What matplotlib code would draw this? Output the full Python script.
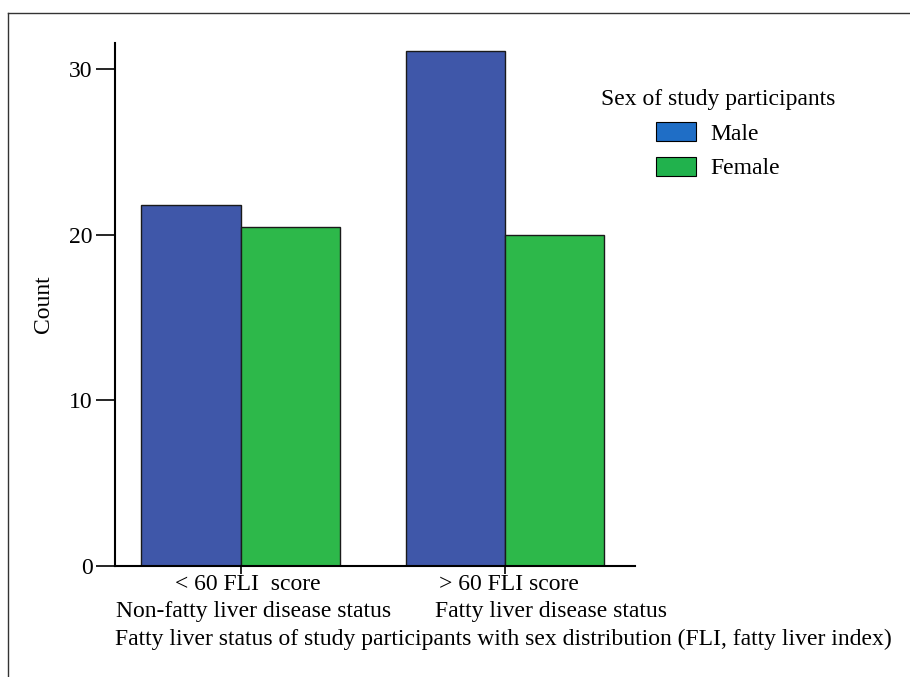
import matplotlib
matplotlib.use("Agg")
import matplotlib.pyplot as plt
import numpy as np
from matplotlib.lines import Line2D
from matplotlib.patches import Patch
import matplotlib.transforms as mtransforms

# data
categories = ["< 60 FLI  score", "> 60 FLI score"]
status_labels = ["Non-fatty liver disease status", "Fatty liver disease status"]
male_counts = [21.8, 31.1]
female_counts = [20.5, 20.0]

plt.rcParams["font.family"] = ["Liberation Serif", "DejaVu Serif"]

bar_male = "#3f57a9"
bar_female = "#2db84a"
leg_male = "#1f6ec6"
leg_female = "#21b24d"
txt_size = 17

fig = plt.figure(figsize=(9.1, 6.77), dpi=100)
ax = fig.add_axes([0.1264, 0.164, 0.571, 0.7725])

x = np.arange(len(categories))
width = 0.375
ax.bar(x - width / 2, male_counts, width, color=bar_male, edgecolor="#1a1a1a", linewidth=1.0)
ax.bar(x + width / 2, female_counts, width, color=bar_female, edgecolor="#1a1a1a", linewidth=1.0)

ax.set_xlim(-0.475, 1.49)
ax.set_ylim(0, 31.6)
ax.set_yticks([0, 10, 20, 30])
ax.tick_params(axis="y", length=14, width=1.2, labelsize=txt_size, pad=2)
ax.set_xticks(x)
ax.set_xticklabels([])
ax.tick_params(axis="x", length=6, width=1.2)
for side in ["top", "right"]:
    ax.spines[side].set_visible(False)
ax.spines["left"].set_linewidth(1.5)
ax.spines["bottom"].set_linewidth(1.5)

ax.set_ylabel("Count", fontsize=txt_size, labelpad=11)

# two-line category labels under the axis
trans = mtransforms.blended_transform_factory(ax.transData, ax.transAxes)
line1_x = [0.026, 1.015]
line2_x = [-0.47, 0.736]
for i in range(len(categories)):
    ax.text(line1_x[i], -0.036, categories[i], transform=trans, ha="center", va="center", fontsize=txt_size)
    ax.text(line2_x[i], -0.088, status_labels[i], transform=trans, ha="left", va="center", fontsize=txt_size)
ax.text(0.0, -0.140, "Fatty liver status of study participants with sex distribution (FLI, fatty liver index)",
        transform=ax.transAxes, ha="left", va="center", fontsize=txt_size)

handles = [Patch(facecolor=leg_male, edgecolor="black", linewidth=0.8),
           Patch(facecolor=leg_female, edgecolor="black", linewidth=0.8)]
fig.legend(handles, ["Male", "Female"], title="Sex of study participants",
           loc="upper center", bbox_to_anchor=(0.789, 0.886), frameon=False,
           fontsize=txt_size, title_fontsize=txt_size, handlelength=1.7, handleheight=0.9,
           labelspacing=0.5, borderpad=0, handletextpad=0.6)

# outer frame (top and left edges)
fig.add_artist(Line2D([0.0088, 1.0], [0.981, 0.981], transform=fig.transFigure, color="#333333", linewidth=1.0))
fig.add_artist(Line2D([0.0088, 0.0088], [0.0, 0.981], transform=fig.transFigure, color="#333333", linewidth=1.0))

fig.savefig("out.png", dpi=100)
